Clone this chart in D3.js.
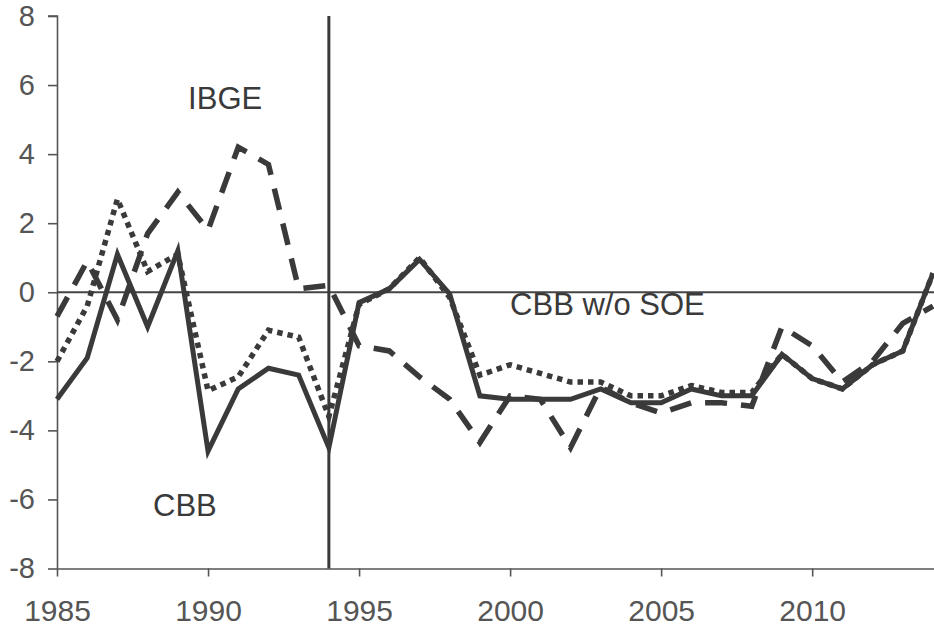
<!DOCTYPE html>
<html>
<head>
<meta charset="utf-8">
<script src="https://cdn.jsdelivr.net/npm/d3@7"></script>
<style>
  html, body { margin: 0; padding: 0; background: #fff; }
  svg { display: block; }
  text { font-family: "Liberation Sans", Arial, Helvetica, sans-serif; }
</style>
</head>
<body>
<svg id="chart" width="934" height="627"></svg>
<script>
const years = d3.range(1985, 2015);
const cbb = [-3.1, -1.9, 1.1, -1.0, 1.2, -4.6, -2.8, -2.2, -2.4, -4.5,
             -0.3, 0.1, 0.95, -0.05, -3.0, -3.1, -3.1, -3.1, -2.8, -3.2,
             -3.2, -2.8, -3.0, -3.0, -1.8, -2.5, -2.8, -2.1, -1.7, 0.55];
const cbbNoSoe = [-2.0, -0.4, 2.7, 0.6, 1.1, -2.85, -2.45, -1.1, -1.3, -3.6,
                  -0.35, 0.1, 1.0, -0.15, -2.4, -2.1, -2.35, -2.6, -2.6, -3.0,
                  -3.0, -2.7, -2.9, -2.9, -1.8, -2.5, -2.8, -2.1, -1.7, 0.55];
const ibge = [-0.7, 0.9, -0.8, 1.7, 2.9, 1.8, 4.2, 3.7, 0.1, 0.2,
              -1.55, -1.7, -2.45, -3.1, -4.35, -3.0, -3.1, -4.5, -2.75, -3.2,
              -3.5, -3.2, -3.2, -3.3, -1.0, -1.55, -2.6, -2.0, -0.9, -0.4];
const xTicks = [1985, 1990, 1995, 2000, 2005, 2010];
const yTicks = [-8, -6, -4, -2, 0, 2, 4, 6, 8];
const breakYear = 1994;
const labels = [
  {text: "IBGE", year: 1989.34, value: 5.31},
  {text: "CBB", year: 1988.18, value: -6.48},
  {text: "CBB w/o SOE", year: 2000.0, value: -0.66}
];

const svg = d3.select("#chart");
const x = d3.scaleLinear().domain([1985, 2014]).range([57, 933]);
const y = d3.scaleLinear().domain([-8, 8]).range([568.5, 16]);
const lineColor = "#3a3a3a";
const axisColor = "#555";

// Axes
const yAxis = svg.append("g")
  .attr("transform", `translate(${x(1985)},0)`)
  .call(d3.axisLeft(y).tickValues(yTicks).tickSize(9).tickPadding(13)
        .tickFormat(d => String(d)));
const xAxis = svg.append("g")
  .attr("transform", `translate(0,${y(-8)})`)
  .call(d3.axisBottom(x).tickValues(xTicks).tickSize(8).tickPadding(23)
        .tickFormat(d => String(d)));
[yAxis, xAxis].forEach(g => {
  g.select(".domain").attr("stroke", axisColor).attr("stroke-width", 1.6);
  g.selectAll(".tick line").attr("stroke", axisColor).attr("stroke-width", 1.6);
  g.selectAll(".tick text").attr("fill", "#555").style("font-size", "29px")
    .style("font-family", "'Liberation Sans', Arial, sans-serif");
});
xAxis.selectAll(".tick text").style("font-size", "30px");
xAxis.select(".domain").attr("d", `M${x(1985)},0.5H934`);
yAxis.select(".domain").attr("d", `M-9,${y(8)}H0.5V${y(-8)}`);

// zero line
svg.append("line")
  .attr("x1", x(1985)).attr("x2", 934)
  .attr("y1", y(0)).attr("y2", y(0))
  .attr("stroke", "#444").attr("stroke-width", 2.2);

// vertical line at break year
svg.append("line")
  .attr("x1", x(breakYear)).attr("x2", x(breakYear))
  .attr("y1", y(8)).attr("y2", y(-8))
  .attr("stroke", lineColor).attr("stroke-width", 3);

const line = d3.line().x((d, i) => x(years[i])).y(d => y(d));

svg.append("path").datum(ibge)
  .attr("d", line).attr("fill", "none")
  .attr("stroke", lineColor).attr("stroke-width", 5.5)
  .attr("stroke-dasharray", "22,14");

svg.append("path").datum(cbbNoSoe)
  .attr("d", line).attr("fill", "none")
  .attr("stroke", lineColor).attr("stroke-width", 5.5)
  .attr("stroke-dasharray", "5.5,5");

svg.append("path").datum(cbb)
  .attr("d", line).attr("fill", "none")
  .attr("stroke", lineColor).attr("stroke-width", 5)
  .attr("stroke-linejoin", "miter");

svg.selectAll("text.lbl").data(labels).enter().append("text")
  .attr("class", "lbl")
  .attr("x", d => x(d.year)).attr("y", d => y(d.value))
  .attr("fill", "#3a3a3a")
  .style("font-size", "31px")
  .text(d => d.text);
</script>
</body>
</html>
